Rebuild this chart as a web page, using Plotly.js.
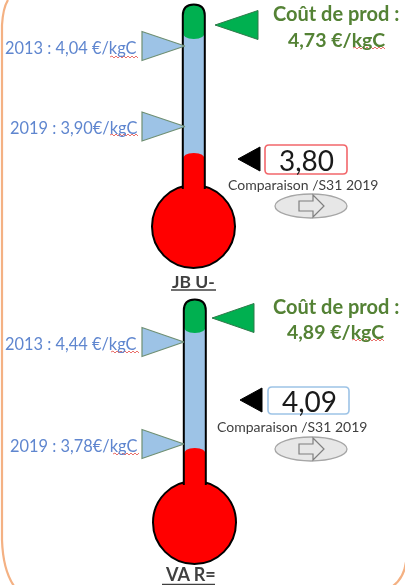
<!DOCTYPE html>
<html><head><meta charset="utf-8">
<script src="https://cdn.plot.ly/plotly-3.0.0.min.js"></script>
<style>html,body{margin:0;padding:0;background:#fff;overflow:hidden}#plot{width:405px;height:585px;filter:blur(0.5px)}</style>
</head><body><div id="plot"></div>
<script>
// Values
const panelNames = ['JB U-', 'VA R='];
const costText = ['4,73 €/kgC', '4,89 €/kgC'];
const text2013 = ['2013 : 4,04 €/kgC', '2013 : 4,44 €/kgC'];
const text2019 = ['2019 : 3,90€/kgC', '2019 : 3,78€/kgC'];
const currentText = ['3,80', '4,09'];
const compareText = 'Comparaison /S31 2019';
const costTitle = 'Coût de prod :';
// Gauge readings along the vertical scale of the page
const costMark = [25, 318];
const mark2013 = [46, 342];
const mark2019 = [126.5, 444];
const currentMark = [159, 400];
const greenLevel = [39, 333];
const redLevel = [153, 448];

// Layout
const L = {
  tubeX: [193.8, 194.8], tubeTop: [4.5, 299.5], hw: 11, bulbX: [193.5, 194.5], bulbY: [226.5, 522.5], r: 41.5,
  costTipX: [215, 212], costBaseX: [258, 254],
  blueBaseX: 142, blueTipX: [185, 184], triHalf: 14.5,
  blackTipX: [238, 240], blackBaseX: [260, 262], blackHalf: 12,
  boxX: [[265, 347], [268, 349]], boxY: [[145, 174], [387, 414]], boxEdge: ['#f2676b', '#9dc3e6'],
  cmpX: [303, 292], cmpY: [184, 426],
  ellY: [206, 449], ellX: [275, 347], ellHalf: 12,
  nameX: [193, 190], nameY: [281, 573.5], ulY: [290, 584.5], ulX: [[171, 216], [162, 215]], nameSize: [17.5, 18],
  costX: [336, 335.5], costY: [[13, 39], [306, 331]],
  labelRight: 138.5, squig2013: [[110, 139, 57], [111, 139, 352]], squig2019: [[110, 138, 135], [113, 139, 454]], squigCost: [[353, 386, 48], [352, 385, 340]]
};
const BLUE = '#9dc3e6', GREEN = '#00b050', RED = '#ff0000', LBL = '#5f86cf', GTX = '#548235', ORANGE = '#f4b183';

const shapes = [], traces = [], annotations = [];
function sh(o) { shapes.push(Object.assign({ xref: 'x', yref: 'y', layer: 'below', line: { width: 0 } }, o)); }
function tri(xs, ys, fill, edge, w) {
  traces.push({ x: xs, y: ys, mode: 'lines', fill: 'toself', fillcolor: fill, line: { color: edge, width: w }, hoverinfo: 'skip', showlegend: false });
}
function note(x, y, text, size, color, anchor, font) {
  annotations.push({ x, y, text, xref: 'x', yref: 'y', showarrow: false, xanchor: anchor || 'center', yanchor: 'middle',
    font: { family: font || 'Lato, sans-serif', size, color } });
}
function squiggle(s) {
  let d = 'M' + s[0] + ',' + s[2];
  let up = true;
  for (let x = s[0] + 2; x <= s[1]; x += 2) { d += ' L' + x + ',' + (s[2] + (up ? -1 : 1)); up = !up; }
  shapes.push({ type: 'path', xref: 'x', yref: 'y', layer: 'above', path: d, line: { color: '#e8605a', width: 0.9 } });
}

// Frame of the panel
sh({ type: 'path', path: 'M8,0 Q3,8 2,25 L2,540 Q3,570 14,586', line: { color: ORANGE, width: 2.2 } });
sh({ type: 'path', path: 'M406,562 Q404,578 393,586', line: { color: ORANGE, width: 2.2 } });

panelNames.forEach((name, i) => {
  const cx = L.tubeX[i], top = L.tubeTop[i], hw = L.hw, l = cx - hw, r = cx + hw, by = L.bulbY[i], bx = L.bulbX[i], R = L.r;
  const joinY = by - R + 4;
  // tube
  sh({ type: 'rect', x0: l, x1: r, y0: top + 6, y1: redLevel[i] + 8, fillcolor: BLUE });
  // green top
  sh({ type: 'path', path: `M${l},${top + hw} Q${l},${top} ${cx},${top} Q${r},${top} ${r},${top + hw} L${r},${greenLevel[i] - 7} Q${r},${greenLevel[i]} ${cx},${greenLevel[i]} Q${l},${greenLevel[i]} ${l},${greenLevel[i] - 7} Z`, fillcolor: GREEN });
  // bulb and red column
  sh({ type: 'circle', x0: bx - R, x1: bx + R, y0: by - R, y1: by + R, fillcolor: RED, line: { color: '#000', width: 2 } });
  sh({ type: 'path', path: `M${l},${joinY + 4} L${l},${redLevel[i] + 7} Q${l},${redLevel[i]} ${cx},${redLevel[i]} Q${r},${redLevel[i]} ${r},${redLevel[i] + 7} L${r},${joinY + 4} Z`, fillcolor: RED });
  // tube outline
  sh({ type: 'path', path: `M${l},${joinY} L${l},${top + hw} Q${l},${top} ${cx},${top} Q${r},${top} ${r},${top + hw} L${r},${joinY}`, line: { color: '#000', width: 2 } });

  // markers
  tri([L.costTipX[i], L.costBaseX[i], L.costBaseX[i], L.costTipX[i]], [costMark[i], costMark[i] - L.triHalf, costMark[i] + L.triHalf, costMark[i]], GREEN, '#2f7a4a', 1);
  [mark2013[i], mark2019[i]].forEach(m => tri([L.blueTipX[i], L.blueBaseX, L.blueBaseX, L.blueTipX[i]], [m, m - L.triHalf, m + L.triHalf, m], BLUE, '#6f8f72', 1.2));
  const bm = currentMark[i];
  tri([L.blackTipX[i], L.blackBaseX[i], L.blackBaseX[i], L.blackTipX[i]], [bm, bm - L.blackHalf, bm + L.blackHalf, bm], '#000', '#000', 1);

  // value box
  const bX = L.boxX[i], bY = L.boxY[i], c = 4;
  sh({ type: 'path', path: `M${bX[0] + c},${bY[0]} L${bX[1] - c},${bY[0]} Q${bX[1]},${bY[0]} ${bX[1]},${bY[0] + c} L${bX[1]},${bY[1] - c} Q${bX[1]},${bY[1]} ${bX[1] - c},${bY[1]} L${bX[0] + c},${bY[1]} Q${bX[0]},${bY[1]} ${bX[0]},${bY[1] - c} L${bX[0]},${bY[0] + c} Q${bX[0]},${bY[0]} ${bX[0] + c},${bY[0]} Z`, fillcolor: '#fff', line: { color: L.boxEdge[i], width: 1.6 } });
  note((bX[0] + bX[1]) / 2 + 0.5, (bY[0] + bY[1]) / 2 + 0.5, currentText[i], 28, '#1a1a1a');
  note(L.cmpX[i], L.cmpY[i], compareText, 14, '#404040');

  // trend ellipse with arrow
  const ey = L.ellY[i], ex = L.ellX;
  sh({ type: 'circle', x0: ex[0], x1: ex[1], y0: ey - L.ellHalf, y1: ey + L.ellHalf, fillcolor: '#e7e7e7', line: { color: '#a6a6a6', width: 1.3 } });
  sh({ type: 'path', path: `M299,${ey - 5} L313,${ey - 5} L313,${ey - 11} L324,${ey} L313,${ey + 11} L313,${ey + 5} L299,${ey + 5} Z`, fillcolor: '#e7e7e7', line: { color: '#7f7f7f', width: 1.2 } });

  // texts
  note(L.nameX[i], L.nameY[i], '<b>' + name + '</b>', L.nameSize[i], '#404040');
  sh({ type: 'rect', x0: L.ulX[i][0], x1: L.ulX[i][1], y0: L.ulY[i] - 0.7, y1: L.ulY[i] + 0.7, fillcolor: '#404040' });
  note(L.costX[i], L.costY[i][0], '<b>' + costTitle + '</b>', 20, GTX);
  note(L.costX[i], L.costY[i][1], '<b>' + costText[i] + '</b>', 19.5, GTX);
  note(L.labelRight, mark2013[i] + 1.5, text2013[i], 16.4, LBL, 'right');
  note(L.labelRight, mark2019[i] + 1, text2019[i], 16.4, LBL, 'right');
  squiggle(L.squig2013[i]); squiggle(L.squig2019[i]); squiggle(L.squigCost[i]);
});

const axis = { visible: false, showgrid: false, zeroline: false, fixedrange: true };
Plotly.newPlot('plot', traces, {
  width: 405, height: 585, margin: { l: 0, r: 0, t: 0, b: 0 }, paper_bgcolor: '#fff', plot_bgcolor: '#fff', showlegend: false,
  xaxis: Object.assign({ range: [0, 405] }, axis),
  yaxis: Object.assign({ range: [585, 0] }, axis),
  shapes, annotations
}, { displayModeBar: false, staticPlot: true });
</script></body></html>
